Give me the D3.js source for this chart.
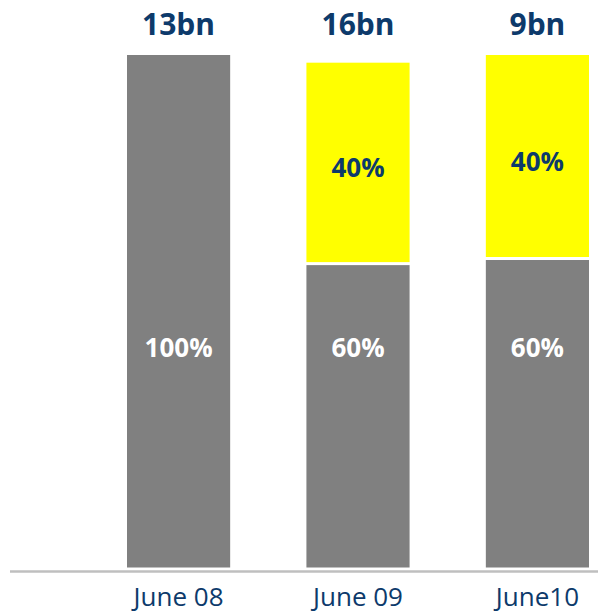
<!DOCTYPE html>
<html>
<head>
<meta charset="utf-8">
<script src="https://cdn.jsdelivr.net/npm/d3@7"></script>
<style>
  body { margin: 0; background: white; }
  text { font-family: "Open Sans", "DejaVu Sans", sans-serif; }
</style>
</head>
<body>
<div id="chart"></div>
<script>
// data
const periods = ["June 08", "June 09", "June10"];
const totals = ["13bn", "16bn", "9bn"];
// drawn heights of each segment, in % of the tallest bar
const greyShare = [100, 59, 60];
const yellowShare = [0, 39.5, 40];
const greyLabels = ["100%", "60%", "60%"];
const yellowLabels = [null, "40%", "40%"];

const dim = { width: 598, height: 613 };
const navy = "#0d3a6b";

const svg = d3.select("#chart").append("svg")
    .attr("width", dim.width)
    .attr("height", dim.height);

const x = d3.scaleBand()
    .domain(periods)
    .range([127, 589])
    .paddingInner(0.425)
    .paddingOuter(0);

const y = d3.scaleLinear()
    .domain([0, 100])
    .range([567.5, 55]);

const gap = 3; // white gap between segments

let rows = periods.map((p, i) => ({
    period: p,
    total: totals[i],
    grey: greyShare[i],
    yellow: yellowShare[i],
    greyLabel: greyLabels[i],
    yellowLabel: yellowLabels[i]
}));

// grey segments
svg.selectAll("rect.grey")
    .data(rows)
    .join("rect")
    .attr("class", "grey")
    .attr("x", d => x(d.period))
    .attr("width", x.bandwidth())
    .attr("y", d => y(d.grey))
    .attr("height", d => y(0) - y(d.grey))
    .attr("fill", "#808080");

// yellow segments
svg.selectAll("rect.yellow")
    .data(rows.filter(d => d.yellow > 0))
    .join("rect")
    .attr("class", "yellow")
    .attr("x", d => x(d.period))
    .attr("width", x.bandwidth())
    .attr("y", d => y(d.grey + d.yellow))
    .attr("height", d => y(d.grey) - y(d.grey + d.yellow) - gap)
    .attr("fill", "#ffff00");

// axis baseline
svg.append("line")
    .attr("x1", 10)
    .attr("x2", dim.width)
    .attr("y1", 571.5)
    .attr("y2", 571.5)
    .attr("stroke", "#bfbfbf")
    .attr("stroke-width", 2.5);

// totals on top
svg.selectAll("text.total")
    .data(rows)
    .join("text")
    .attr("class", "total")
    .attr("x", d => x(d.period) + x.bandwidth() / 2)
    .attr("y", 35)
    .attr("text-anchor", "middle")
    .attr("font-size", 30)
    .attr("font-weight", "bold")
    .attr("fill", navy)
    .text(d => d.total);

// grey labels sit at a fixed height
svg.selectAll("text.greyLab")
    .data(rows)
    .join("text")
    .attr("class", "greyLab")
    .attr("x", d => x(d.period) + x.bandwidth() / 2)
    .attr("y", y(41))
    .attr("text-anchor", "middle")
    .attr("font-size", 26)
    .attr("font-weight", "bold")
    .attr("fill", "white")
    .text(d => d.greyLabel);

// yellow labels, centred in segment
svg.selectAll("text.yellowLab")
    .data(rows.filter(d => d.yellowLabel))
    .join("text")
    .attr("class", "yellowLab")
    .attr("x", d => x(d.period) + x.bandwidth() / 2)
    .attr("y", d => (y(d.grey + d.yellow) + y(d.grey) - gap) / 2 + 15)
    .attr("text-anchor", "middle")
    .attr("font-size", 26)
    .attr("font-weight", "bold")
    .attr("fill", navy)
    .text(d => d.yellowLabel);

// category labels
svg.selectAll("text.cat")
    .data(rows)
    .join("text")
    .attr("class", "cat")
    .attr("x", d => x(d.period) + x.bandwidth() / 2)
    .attr("y", 606)
    .attr("text-anchor", "middle")
    .attr("font-size", 26)
    .attr("fill", navy)
    .text(d => d.period);
</script>
</body>
</html>
